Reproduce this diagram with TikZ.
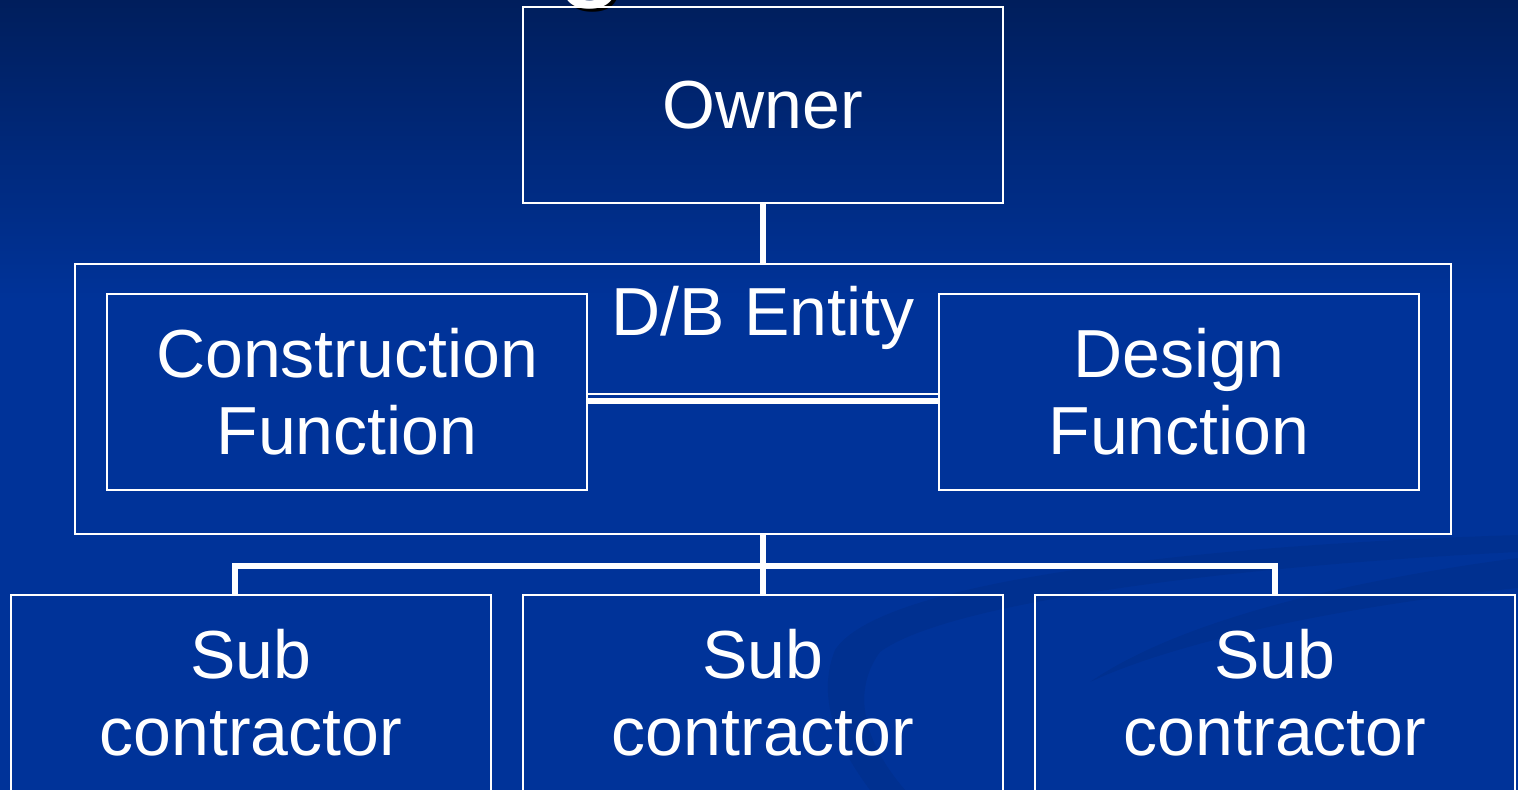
\documentclass[tikz,border=0pt]{standalone}
\usepackage{fontspec}
\setmainfont{Liberation Sans}
\definecolor{bgtop}{RGB}{0,30,92}
\definecolor{bgmain}{RGB}{0,51,153}
\begin{document}
\begin{tikzpicture}[x=0.5pt,y=-0.5pt,
  box/.style={draw=white,line width=0.9pt,rectangle,inner sep=0pt,
    minimum width=240pt,minimum height=98pt,text=white,align=center,
    font=\fontsize{34pt}{38.5pt}\selectfont},
  conn/.style={draw=white,line width=3.3pt},
  thin/.style={draw=white,line width=0.9pt},
  label/.style={text=white,inner sep=0pt,font=\fontsize{34pt}{38.5pt}\selectfont}]
% background
\useasboundingbox (0,0) rectangle (1518,790);
\fill[bgmain] (0,0) rectangle (1518,790);
\shade[top color=bgtop,bottom color=bgmain] (0,0) rectangle (1518,300);
% faint swooshes
\fill[black,opacity=0.06] (1518,535) .. controls (1200,545) and (880,580) .. (835,650)
  .. controls (815,700) and (840,750) .. (870,790) -- (905,790)
  .. controls (862,740) and (852,690) .. (880,652)
  .. controls (950,600) and (1250,565) .. (1518,552) -- cycle;
\fill[black,opacity=0.06] (1090,682) .. controls (1180,620) and (1350,580) .. (1518,558)
  -- (1518,588) .. controls (1350,605) and (1180,640) .. (1090,682) -- cycle;
% cut-off title letter
\node[anchor=base,inner sep=0pt,text=black,font=\fontsize{62pt}{62pt}\selectfont] (gshadow) at (594,-13) {g};
\node[anchor=base,inner sep=0pt,text=white,font=\fontsize{62pt}{62pt}\selectfont] (gtitle) at (591,-16) {g};
% boxes
\node[box] (owner) at (763,105) {Owner};
\node[box,minimum width=688pt,minimum height=135pt] (dbe) at (763,399) {};
\node[box] (cons) at (347,392) {Construction\\Function};
\node[box] (des) at (1179,392) {Design\\Function};
\node[label,anchor=base] (dbl) at (763,336) {D/B Entity};
\node[box] (sub1) at (251,693) {Sub\\contractor};
\node[box] (sub2) at (763,693) {Sub\\contractor};
\node[box] (sub3) at (1275,693) {Sub\\contractor};
% connectors
\draw[conn] (owner.south) -- (dbe.north);
\draw[thin] ([yshift=-1pt]cons.east) -- ([yshift=-1pt]des.west);
\draw[conn] ([yshift=-4.5pt]cons.east) -- ([yshift=-4.5pt]des.west);
\coordinate (bus) at (763,566);
\draw[conn] (dbe.south) -- (sub2.north);
\draw[conn] ([xshift=-8pt]sub1.north) |- (bus) -| (sub3.north);
\end{tikzpicture}
\end{document}
